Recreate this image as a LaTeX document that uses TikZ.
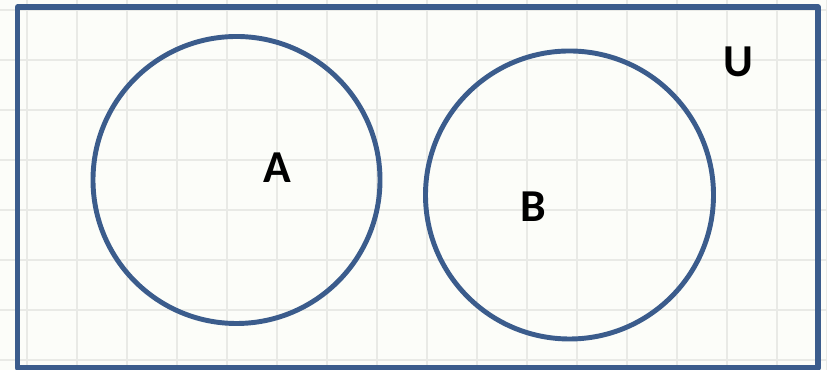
\documentclass[tikz,border=0pt]{standalone}
\usepackage{fontspec}
\setmainfont{Carlito}
\definecolor{setblue}{RGB}{59,92,140}
\definecolor{paper}{RGB}{252,253,249}
\definecolor{gridgray}{RGB}{233,234,230}
\begin{document}
\begin{tikzpicture}[line join=round,line cap=round,font=\fontsize{26}{30}\selectfont\bfseries,
	setline/.style={draw=setblue,line width=2.8pt}]
			\fill[paper] (0,0) rectangle (16.54,7.4);
			\useasboundingbox (0,0) rectangle (16.54,7.4);
			\foreach \x in {0.54,1.54,...,16.54} \draw[gridgray,line width=.7pt] (\x,0) -- (\x,7.4);
			\foreach \y in {0.2,1.2,...,7.2} \draw[gridgray,line width=.7pt] (0,\y) -- (16.54,\y);
			\draw[setline,line width=3pt] (0.35,0.04) rectangle (16.36,7.26);
			\draw[setline] (4.73,3.8) circle (2.87);
			\draw[setline] (11.39,3.5) circle (2.88);
			\path 
			(5.54,4.04)node(A){A} (10.66,3.26)node(B){B}
			(14.76,6.16)node(U){U};
	\end{tikzpicture}
\end{document}
